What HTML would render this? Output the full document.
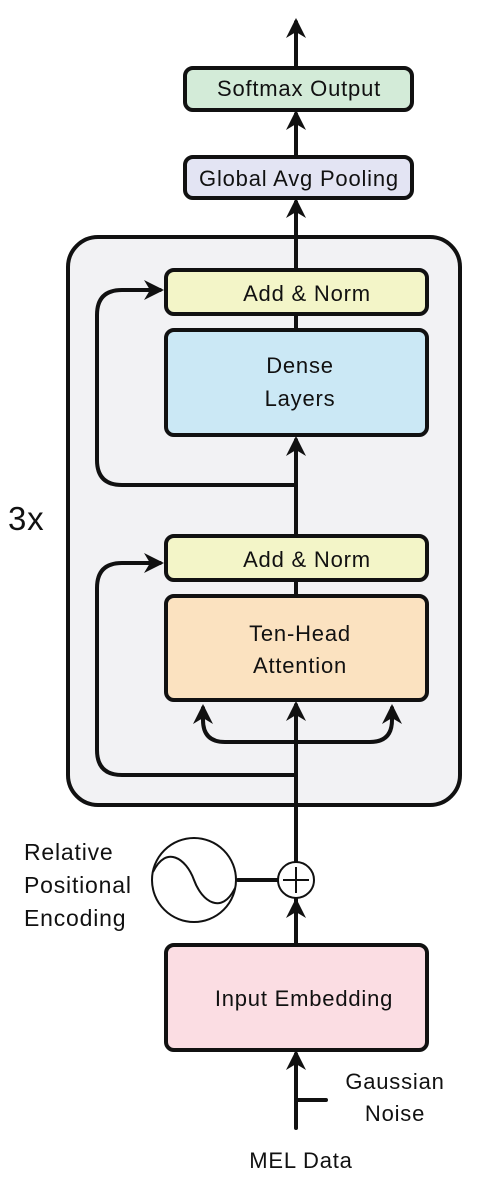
<!DOCTYPE html>
<html><head><meta charset="utf-8"><style>
html,body{margin:0;padding:0;background:#fff;}
svg{display:block;}
text{font-family:"Liberation Sans",sans-serif;fill:#111;letter-spacing:0.8px;}
</style></head><body>
<svg width="494" height="1194" viewBox="0 0 494 1194" xmlns="http://www.w3.org/2000/svg">
<defs>
<marker id="ah" viewBox="0 0 10 10" refX="8" refY="5" markerWidth="5" markerHeight="5" orient="auto-start-reverse">
<path d="M0,0 L10,5 L0,10 L3,5 z" fill="#111"/>
</marker>
</defs>
<g stroke="#111" stroke-width="4" fill="none" stroke-linecap="round" stroke-linejoin="round">
<rect x="68" y="237" width="392" height="568" rx="30" fill="#f2f2f4"/>
<line x1="296" y1="68" x2="296" y2="22" marker-end="url(#ah)"/>
<line x1="296" y1="157" x2="296" y2="114" marker-end="url(#ah)"/>
<line x1="296" y1="270" x2="296" y2="202" marker-end="url(#ah)"/>
<line x1="296" y1="314" x2="296" y2="330"/>
<line x1="296" y1="536" x2="296" y2="440" marker-end="url(#ah)"/>
<path d="M296 485 H122 Q97 485 97 460 V315 Q97 290 122 290 H160" marker-end="url(#ah)"/>
<line x1="296" y1="580" x2="296" y2="596"/>
<line x1="296" y1="940" x2="296" y2="705" marker-end="url(#ah)"/>
<path d="M296 742 H225 Q203 742 203 720 V708" marker-end="url(#ah)"/>
<path d="M296 742 H370 Q392 742 392 720 V708" marker-end="url(#ah)"/>
<path d="M296 775 H122 Q97 775 97 750 V588 Q97 563 122 563 H160" marker-end="url(#ah)"/>
<line x1="238" y1="880" x2="278" y2="880"/>
<line x1="296" y1="945" x2="296" y2="902" marker-end="url(#ah)"/>
<line x1="296" y1="1128" x2="296" y2="1054" marker-end="url(#ah)"/>
<line x1="298" y1="1100" x2="326" y2="1100"/>
</g>
<g stroke="#111" stroke-width="4">
<rect x="185" y="68" width="227" height="42" rx="8" fill="#d3ebd8"/>
<rect x="185" y="157" width="227" height="41" rx="8" fill="#e3e4f3"/>
<rect x="166" y="270" width="261" height="44" rx="8" fill="#f3f5c8"/>
<rect x="166" y="330" width="261" height="105" rx="8" fill="#cbe8f5"/>
<rect x="166" y="536" width="261" height="44" rx="8" fill="#f3f5c8"/>
<rect x="166" y="596" width="261" height="104" rx="8" fill="#fbe2c0"/>
<rect x="166" y="945" width="261" height="105" rx="8" fill="#fbdde3"/>
</g>
<g stroke="#111" stroke-width="2" fill="#fff">
<circle cx="296" cy="880" r="18"/>
<line x1="283" y1="880" x2="309" y2="880"/>
<line x1="296" y1="867" x2="296" y2="893"/>
<circle cx="194" cy="880" r="42"/>
<path d="M153 872 C166 845 186 858 194 880 C202 902 222 915 235 888" fill="none"/>
</g>
<g text-anchor="middle" font-size="22">
<text x="299" y="96">Softmax Output</text>
<text x="299" y="186">Global Avg Pooling</text>
<text x="307" y="301">Add &amp; Norm</text>
<text x="300" y="373">Dense</text>
<text x="300" y="406">Layers</text>
<text x="307" y="567">Add &amp; Norm</text>
<text x="300" y="641">Ten-Head</text>
<text x="300" y="673">Attention</text>
<text x="304" y="1006">Input Embedding</text>
<text x="395" y="1089">Gaussian</text>
<text x="395" y="1121">Noise</text>
<text x="301" y="1168">MEL Data</text>
</g>
<g font-size="23">
<text x="24" y="860">Relative</text>
<text x="24" y="893">Positional</text>
<text x="24" y="926">Encoding</text>
<text x="8" y="530" font-size="33">3x</text>
</g>
</svg>
</body></html>
